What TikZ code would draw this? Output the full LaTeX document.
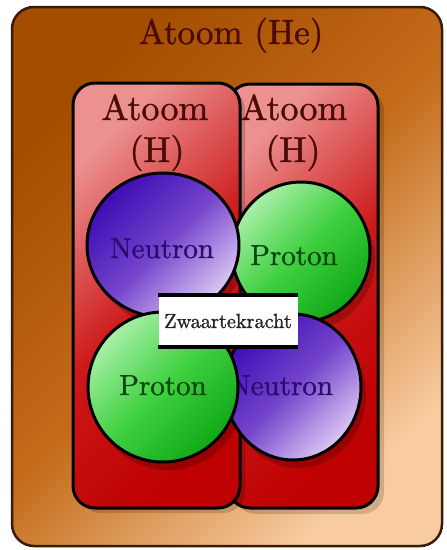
\documentclass[tikz,border=0pt]{standalone}
\usepackage{fontspec}
\newfontfamily\heavyfont{lmroman10-regular.otf}[FakeBold=1.2]
\definecolor{brownA}{HTML}{A44C00}
\definecolor{brownB}{HTML}{C46C1A}
\definecolor{brownC}{HTML}{F8CCA0}
\definecolor{redA}{HTML}{EC9090}
\definecolor{redB}{HTML}{CC1818}
\definecolor{redC}{HTML}{BE0000}
\definecolor{neuA}{HTML}{3E0CB4}
\definecolor{neuB}{HTML}{7444CC}
\definecolor{neuC}{HTML}{DCC8F4}
\definecolor{proA}{HTML}{A8F0A8}
\definecolor{proB}{HTML}{40D040}
\definecolor{proC}{HTML}{10A818}
\definecolor{maroon}{HTML}{4A0C08}
\definecolor{neutxt}{HTML}{2C0C70}
\definecolor{protxt}{HTML}{0A4A10}
\definecolor{edge}{HTML}{3A1A08}
\begin{document}
\begin{tikzpicture}[x=1pt,y=-1pt,
  outerbox/.style={draw=edge, line width=2.5pt, rounded corners=22pt,
    top color=brownA, bottom color=brownC, middle color=brownB, shading angle=45},
  redbox/.style={draw=black, line width=3pt, rounded corners=22pt,
    top color=redA, bottom color=redC, middle color=redB, shading angle=45},
  boxshadow/.style={fill=black, opacity=0.16, rounded corners=22pt},
  ballshadow/.style={fill=black, opacity=0.2},
  neutronball/.style={draw=black, line width=3pt,
    top color=neuA, bottom color=neuC, middle color=neuB, shading angle=45},
  protonball/.style={draw=black, line width=3pt,
    top color=proA, bottom color=proC, middle color=proB, shading angle=45},
  titletext/.style={text=maroon, font=\heavyfont\fontsize{35}{42}\selectfont, inner sep=0pt},
  htext/.style={text=maroon, font=\heavyfont\fontsize{36}{42}\selectfont, inner sep=0pt},
  neutext/.style={text=neutxt, font=\heavyfont\fontsize{29}{34}\selectfont, inner sep=0pt},
  protext/.style={text=protxt, font=\heavyfont\fontsize{29}{34}\selectfont, inner sep=0pt},
  zbox/.style={fill=white, minimum width=139pt, minimum height=52pt, inner sep=0pt,
    text=black!85, font=\heavyfont\fontsize{20.3}{24}\selectfont},
  zbar/.style={draw=black, line width=4.5pt}
]
\useasboundingbox (0,0) rectangle (447,550);
\fill[white] (0,0) rectangle (447,550);

% outer helium atom
\shadedraw[outerbox] (12,7) rectangle (442,546);
\node[titletext, anchor=base] (title) at (231,44) {Atoom (He)};

% hydrogen atoms
\fill[boxshadow] (234,89) rectangle (384,514);
\shadedraw[redbox] (228,84) rectangle (378,508);
\fill[boxshadow] (79,88) rectangle (245,513);
\shadedraw[redbox] (73,83) rectangle (240,508);

\node[htext, anchor=base] (h1a) at (155,120) {Atoom};
\node[htext, anchor=base] (h1b) at (157,162) {(H)};
\node[htext, anchor=base] (h2a) at (294,120) {Atoom};
\node[htext, anchor=base] (h2b) at (293,162) {(H)};

% shadows of the particles
\fill[ballshadow] (306,260) ellipse [x radius=69pt, y radius=70pt];
\fill[ballshadow] (168,253) ellipse [x radius=76pt, y radius=72pt];
\fill[ballshadow] (298,395) ellipse [x radius=68pt, y radius=73pt];
\fill[ballshadow] (168,395) ellipse [x radius=75pt, y radius=75pt];

% particles
\shadedraw[protonball] (301,252) ellipse [x radius=69pt, y radius=70pt];
\node[protext, anchor=base] (p1) at (294,265) {Proton};
\shadedraw[neutronball] (163,245) ellipse [x radius=76pt, y radius=72pt];
\node[neutext, anchor=base] (n1) at (162,258) {Neutron};
\shadedraw[neutronball] (293,387) ellipse [x radius=68pt, y radius=73pt];
\node[neutext, anchor=base] (n2) at (281,395) {Neutron};
\shadedraw[protonball] (163,387) ellipse [x radius=75pt, y radius=75pt];
\node[protext, anchor=base] (p2) at (163,395) {Proton};

% gravity label
\node[zbox] (zk) at (228,321) {Zwaartekracht};
\draw[zbar] (zk.north west) -- (zk.north east);
\draw[zbar] (zk.south west) -- (zk.south east);
\end{tikzpicture}
\end{document}
